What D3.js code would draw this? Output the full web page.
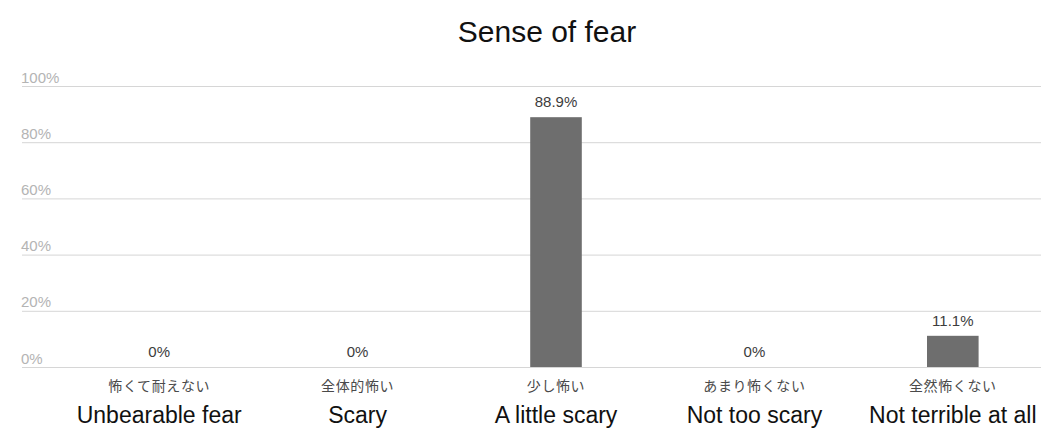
<!DOCTYPE html>
<html>
<head>
<meta charset="utf-8">
<script src="https://cdn.jsdelivr.net/npm/d3@7"></script>
<style>
  html, body { margin: 0; padding: 0; background: #fff; }
  svg { display: block; }
</style>
</head>
<body>
<svg id="chart" width="1041" height="445"></svg>
<script>
// Survey answers: how scary was it?
const categoriesJa = ["怖くて耐えない", "全体的怖い", "少し怖い", "あまり怖くない", "全然怖くない"];
const categoriesEn = ["Unbearable fear", "Scary", "A little scary", "Not too scary", "Not terrible at all"];
const shares = [0, 0, 0.889, 0, 0.111];
const valueLabels = ["0%", "0%", "88.9%", "0%", "11.1%"];
const yTicks = [0, 0.2, 0.4, 0.6, 0.8, 1.0];
const yTickLabels = ["0%", "20%", "40%", "60%", "80%", "100%"];
const chartTitle = "Sense of fear";

const W = 1041, H = 445;
const svg = d3.select("#chart");

const x = d3.scaleBand()
  .domain(categoriesEn)
  .range([60, 1052])
  .paddingInner(0.74)
  .paddingOuter(0.37);

const y = d3.scaleLinear().domain([0, 1]).range([367, 86]);

// Title
svg.append("text")
  .attr("x", 547).attr("y", 42)
  .attr("text-anchor", "middle")
  .attr("font-family", "'Liberation Sans', Arial, sans-serif")
  .attr("font-size", 30)
  .attr("fill", "#111")
  .text(chartTitle);

// Gridlines with percentage labels sitting above each line
const gridLeft = 22;
const yAxis = d3.axisRight(y)
  .tickValues(yTicks)
  .tickSize(W - gridLeft)
  .tickFormat((d, i) => yTickLabels[i]);

const gy = svg.append("g")
  .attr("transform", `translate(${gridLeft},0)`)
  .call(yAxis);
gy.select(".domain").remove();
gy.selectAll(".tick line")
  .attr("stroke", "#d6d6d6")
  .attr("stroke-width", 1);
gy.selectAll(".tick text")
  .attr("x", -1)
  .attr("dy", -4)
  .attr("text-anchor", "start")
  .attr("font-family", "'Liberation Sans', Arial, sans-serif")
  .attr("font-size", 15)
  .attr("fill", "#b4b4b4");

// Bars
svg.append("g").selectAll("rect")
  .data(shares)
  .join("rect")
  .attr("x", (d, i) => x(categoriesEn[i]))
  .attr("width", x.bandwidth())
  .attr("y", d => y(d))
  .attr("height", d => y(0) - y(d))
  .attr("fill", "#6e6e6e");

// Value labels above bars
svg.append("g").selectAll("text")
  .data(shares)
  .join("text")
  .attr("x", (d, i) => x(categoriesEn[i]) + x.bandwidth() / 2)
  .attr("y", d => y(d) - 10)
  .attr("text-anchor", "middle")
  .attr("font-family", "'Liberation Sans', Arial, sans-serif")
  .attr("font-size", 15)
  .attr("fill", "#3c3c3c")
  .text((d, i) => valueLabels[i]);

// Category labels: Japanese line, then English line
const catG = svg.append("g");
catG.selectAll("text.ja")
  .data(categoriesJa)
  .join("text")
  .attr("class", "ja")
  .attr("x", (d, i) => x(categoriesEn[i]) + x.bandwidth() / 2)
  .attr("y", 391)
  .attr("text-anchor", "middle")
  .attr("font-family", "'Noto Sans CJK JP', sans-serif")
  .attr("font-size", 14)
  .attr("letter-spacing", 0.6)
  .attr("fill", "#4a4a4a")
  .text(d => d);

catG.selectAll("text.en")
  .data(categoriesEn)
  .join("text")
  .attr("class", "en")
  .attr("x", d => x(d) + x.bandwidth() / 2)
  .attr("y", 423)
  .attr("text-anchor", "middle")
  .attr("font-family", "'Liberation Sans', Arial, sans-serif")
  .attr("font-size", 23)
  .attr("fill", "#111")
  .text(d => d);
</script>
</body>
</html>
